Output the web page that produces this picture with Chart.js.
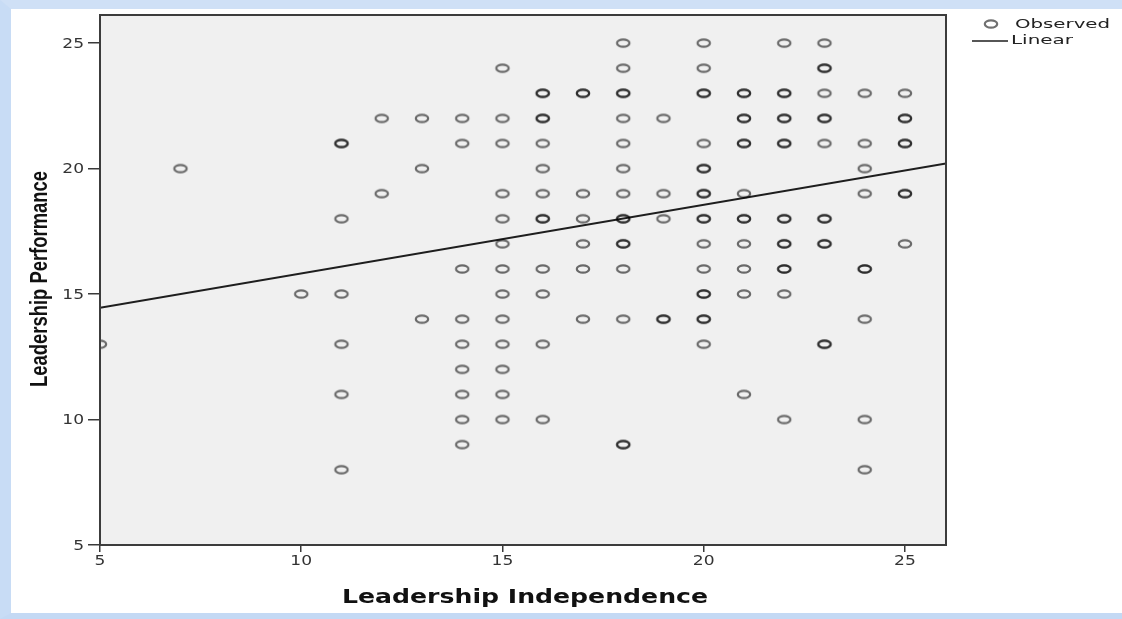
<!DOCTYPE html>
<html>
<head>
<meta charset="utf-8">
<title>Leadership Performance by Leadership Independence</title>
<script src="https://cdn.jsdelivr.net/npm/chart.js@4.4.1/dist/chart.umd.min.js"></script>
<style>
  html, body { margin: 0; padding: 0; background: #fff; }
  #wrap { position: relative; width: 1122px; height: 619px; overflow: hidden; background: #fff; }
  #wrap canvas { position: absolute; left: 0; top: 0; }
  #frame {
    position: absolute; left: 0; top: 0; width: 1122px; height: 619px; box-sizing: border-box;
    border-left: 11px solid #c8dcf5; border-top: 9px solid #cfe0f6; border-bottom: 6px solid #c4d9f4;
    pointer-events: none;
  }
</style>
</head>
<body>
<div id="wrap">
  <canvas id="chart" width="1122" height="619"></canvas>
  <div id="frame"></div>
</div>
<script>
// Leadership Independence scores (x) and the Performance scores seen at each one.
// A value listed twice is a spot where several cases sit on top of each other.
const independence = [5, 7, 10, 11, 12, 13, 14, 15, 16, 17, 18, 19, 20, 21, 22, 23, 24, 25];
const performance = [
  [13],
  [20],
  [15],
  [21, 21, 18, 15, 13, 11, 8],
  [22, 19],
  [22, 20, 14],
  [22, 21, 16, 14, 13, 12, 11, 10, 9],
  [24, 22, 21, 19, 18, 17, 16, 15, 14, 13, 12, 11, 10],
  [23, 23, 22, 22, 21, 20, 19, 18, 18, 16, 15, 13, 10],
  [23, 23, 19, 18, 17, 16, 14],
  [25, 24, 23, 23, 22, 21, 20, 19, 18, 18, 17, 17, 16, 14, 9, 9],
  [22, 19, 18, 14, 14],
  [25, 24, 23, 23, 21, 20, 20, 19, 19, 18, 18, 17, 16, 15, 15, 14, 14, 13],
  [23, 23, 22, 22, 21, 21, 19, 18, 18, 17, 16, 15, 11],
  [25, 23, 23, 22, 22, 21, 21, 18, 18, 17, 17, 16, 16, 15, 10],
  [25, 24, 24, 23, 22, 22, 21, 18, 18, 17, 17, 13, 13],
  [23, 21, 20, 19, 16, 16, 14, 10, 8],
  [23, 22, 22, 21, 21, 19, 19, 17]
];

// linear fit, ends at the edges of the x range
const fitX = [5, 26.02];
const fitY = [14.45, 20.2];

const xTicks = [5, 10, 15, 20, 25];
const yTicks = [5, 10, 15, 20, 25];

const observed = [];
independence.forEach((x, i) => {
  performance[i].forEach(y => observed.push({ x: x, y: y }));
});
const fitLine = fitX.map((x, i) => ({ x: x, y: fitY[i] }));

// open oval marker, semi-opaque so stacked cases print darker
function ringMarker() {
  const c = document.createElement('canvas');
  c.width = 18;
  c.height = 12;
  const g = c.getContext('2d');
  g.strokeStyle = 'rgba(0,0,0,0.56)';
  g.lineWidth = 2.2;
  g.beginPath();
  g.ellipse(9, 6, 6.2, 3.7, 0, 0, Math.PI * 2);
  g.stroke();
  return c;
}
const marker = ringMarker();

function stretchText(ctx, text, x, y, sx, align) {
  ctx.save();
  ctx.translate(x, y);
  ctx.scale(sx, 1);
  ctx.textAlign = align;
  ctx.textBaseline = 'middle';
  ctx.fillText(text, 0, 0);
  ctx.restore();
}

function fitText(ctx, text, x, y, width, align) {
  const w = ctx.measureText(text).width;
  stretchText(ctx, text, x, y, width / w, align);
}

const spssLook = {
  id: 'spssLook',
  beforeDraw(chart) {
    const { ctx, chartArea: a } = chart;
    ctx.save();
    ctx.fillStyle = '#f0f0f0';
    ctx.fillRect(a.left, a.top, a.right - a.left, a.bottom - a.top);
    ctx.restore();
  },
  afterDraw(chart) {
    const { ctx, chartArea: a } = chart;
    const xs = chart.scales.x, ys = chart.scales.y;
    ctx.save();

    // plot frame
    ctx.strokeStyle = '#3c3c3c';
    ctx.lineWidth = 2;
    ctx.strokeRect(a.left, a.top, a.right - a.left, a.bottom - a.top);

    // tick labels
    ctx.fillStyle = '#333';
    ctx.font = '14px "DejaVu Sans"';
    ys.ticks.forEach(t => stretchText(ctx, String(t.value), 84, ys.getPixelForValue(t.value) + 1, 1.22, 'right'));
    xs.ticks.forEach(t => stretchText(ctx, String(t.value), xs.getPixelForValue(t.value), 561, 1.22, 'center'));

    // axis titles
    ctx.fillStyle = '#111';
    ctx.font = 'bold 20px "DejaVu Sans"';
    fitText(ctx, 'Leadership Independence', 525, 598, 366, 'center');

    ctx.save();
    ctx.translate(40, 279);
    ctx.rotate(-Math.PI / 2);
    ctx.font = 'bold 24px "Liberation Sans"';
    fitText(ctx, 'Leadership Performance', 0, 0, 216, 'center');
    ctx.restore();

    // legend
    ctx.drawImage(marker, 991 - marker.width / 2, 24 - marker.height / 2);
    ctx.strokeStyle = '#1e1e1e';
    ctx.lineWidth = 1.6;
    ctx.beginPath();
    ctx.moveTo(972, 41);
    ctx.lineTo(1008, 41);
    ctx.stroke();
    ctx.fillStyle = '#222';
    ctx.font = '13px "DejaVu Sans"';
    fitText(ctx, 'Observed', 1015, 25, 95, 'left');
    fitText(ctx, 'Linear', 1011, 41, 62, 'left');

    ctx.restore();
  }
};

new Chart(document.getElementById('chart'), {
  data: {
    datasets: [
      {
        type: 'scatter',
        label: 'Observed',
        data: observed,
        pointStyle: marker,
        pointRadius: 6,
        pointHoverRadius: 6,
        clip: 0,
      },
      {
        type: 'line',
        label: 'Linear',
        data: fitLine,
        borderColor: '#1e1e1e',
        borderWidth: 2,
        pointRadius: 0,
        fill: false,
        clip: 0,
      },
    ],
  },
  options: {
    responsive: false,
    animation: false,
    layout: { padding: { left: 0, top: 15, right: 176, bottom: 0 } },
    plugins: {
      legend: { display: false },
      tooltip: { enabled: false },
    },
    scales: {
      x: {
        type: 'linear',
        min: 5,
        max: 26.02,
        afterFit: s => { s.height = 74; },
        afterBuildTicks: s => { s.ticks = xTicks.map(v => ({ value: v })); },
        ticks: { display: false },
        grid: { drawOnChartArea: false, drawTicks: true, tickLength: 7, color: '#3a3a3a', lineWidth: 1.5 },
        border: { display: false },
      },
      y: {
        type: 'linear',
        min: 5,
        max: 26.12,
        afterFit: s => { s.width = 100; },
        afterBuildTicks: s => { s.ticks = yTicks.map(v => ({ value: v })); },
        ticks: { display: false },
        grid: { drawOnChartArea: false, drawTicks: true, tickLength: 12, color: '#3a3a3a', lineWidth: 1.5 },
        border: { display: false },
      },
    },
  },
  plugins: [spssLook],
});
</script>
</body>
</html>
